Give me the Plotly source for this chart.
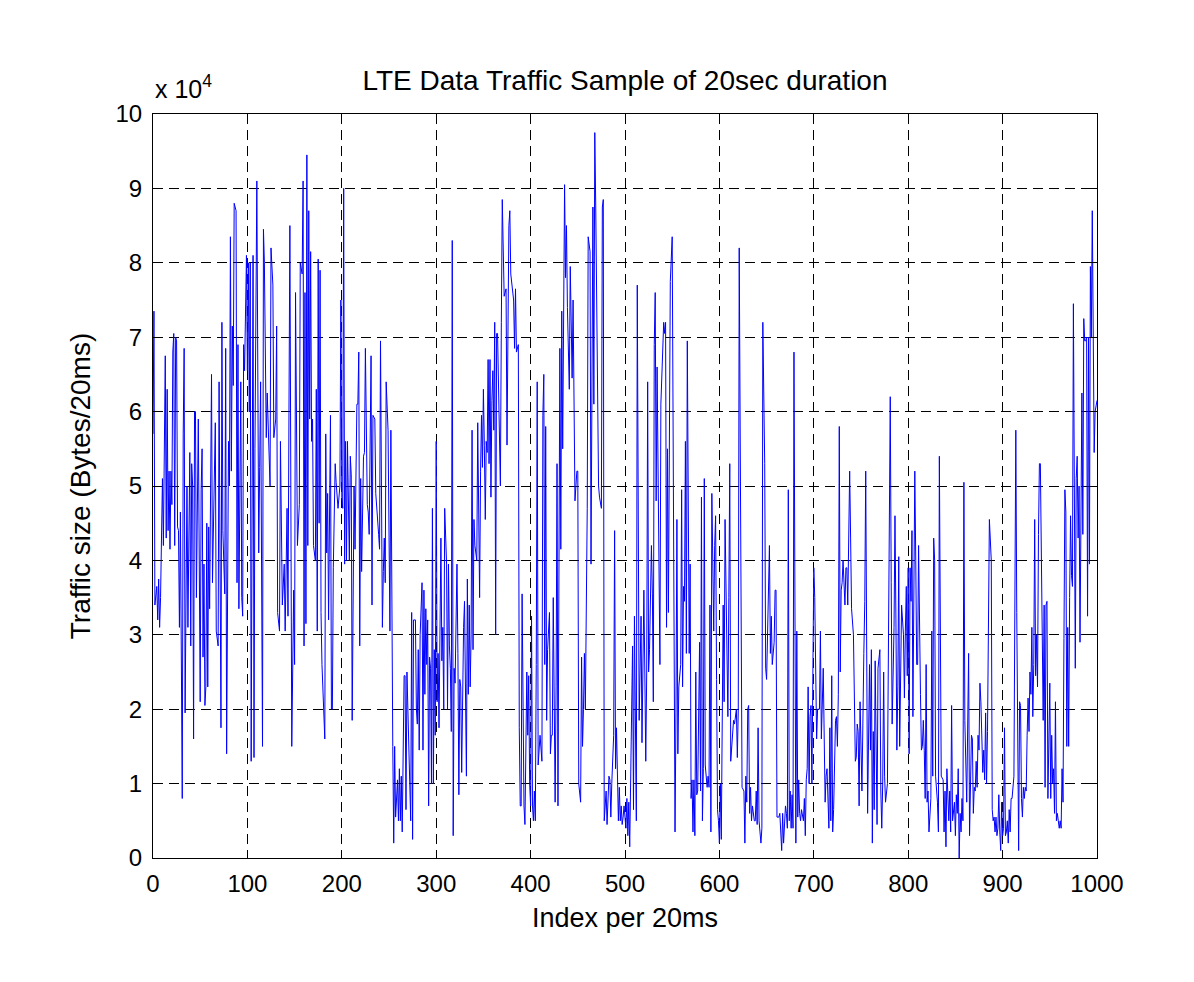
import plotly.graph_objects as go

# sample index (per 20 ms) and traffic size in units of 1e4 bytes
sample_index = [
    0, 1, 2, 4, 5, 6, 7, 8, 10, 11, 13, 14, 15, 16, 17, 18, 19, 20, 21, 22, 23, 24, 25, 26, 27, 28, 29, 30,
    31, 32, 33, 34, 36, 37, 39, 40, 41, 42, 43, 44, 45, 46, 48, 50, 51, 52, 53, 54, 55, 56, 57, 58, 59, 60,
    61, 62, 63, 64, 66, 67, 69, 70, 71, 72, 73, 74, 76, 77, 78, 79, 80, 81, 82, 83, 84, 85, 86, 88, 89, 90,
    91, 93, 94, 95, 96, 97, 98, 99, 100, 101, 102, 103, 104, 106, 107, 108, 110, 111, 112, 113, 114, 116,
    117, 118, 120, 121, 124, 125, 127, 128,
    130, 131, 132, 134, 135, 137, 139, 140, 141, 142, 143, 145, 147, 149, 150, 151, 153, 155, 156, 158,
    159, 160, 161, 162, 163, 164, 165, 166, 167, 168, 169, 170, 172, 173, 174, 175, 176, 177, 178, 179,
    182, 183, 184, 185, 186, 187, 188, 189, 190, 191, 193, 194, 196, 198, 199, 200, 201, 202, 203, 204,
    205, 206, 208, 209, 210, 211, 213, 214, 215, 216, 217, 218, 219, 220, 221, 223, 224, 225, 227, 228,
    229, 231, 232, 233, 235, 236, 239, 240, 241, 243, 244, 245, 246, 247, 249, 251, 252, 253, 254, 255,
    256, 257, 259, 260, 261, 262, 263, 264, 266, 267, 268, 269, 270, 272, 273, 274, 275, 276, 278, 279,
    280, 281, 282, 283, 285, 286, 287, 288, 289, 290, 291, 292, 293, 294, 295, 296, 297, 298, 299, 300,
    301, 302, 303, 305, 306, 307, 308, 309, 311, 312, 313, 314, 315, 316, 317, 318, 319, 320, 322, 323,
    324, 325, 326, 327, 328, 329, 330, 331, 332, 333, 334, 335, 336, 337, 338, 339, 340, 341, 343, 344,
    345, 346, 347, 348, 349, 350, 351, 352, 353, 354, 355, 356, 357, 358, 359, 360, 361, 362, 363, 364,
    365, 366, 367, 368, 369, 370, 372, 373, 374, 375, 376, 377,
    378, 379, 382, 383, 384, 385, 387, 388, 389, 390, 391, 393, 394, 395, 396, 397, 398, 399, 400, 401,
    402, 403, 404, 405, 406, 407, 408, 410, 412, 413, 414, 415, 416, 417, 418, 420, 421, 422, 423, 424,
    426, 427, 428, 429, 430, 431, 432, 433, 434, 435, 436, 437, 438, 439, 440, 441, 442, 444, 445, 446,
    447, 449, 450, 451, 452, 453, 454, 455, 456, 457, 458, 460, 461, 463, 464, 465, 466, 467, 468, 469,
    470, 471, 472, 473, 475, 476, 477, 478, 479, 480, 481, 482, 483, 484, 485, 486, 488, 489, 490, 491,
    492, 493, 494, 495, 496, 497, 498, 499, 501, 502, 503, 504, 505,
    506, 508, 509, 510, 512, 513, 515, 516, 517, 518, 520, 521, 522, 523, 524, 525, 526, 528, 529, 530,
    531, 532, 533, 534, 536, 537, 538, 540, 541, 542, 543, 544, 545, 546, 547, 548, 550, 551, 553, 554,
    555, 556, 557, 559, 560, 561, 562, 563, 564, 565, 566, 568, 569, 570, 571, 572, 573, 574, 575, 576,
    577, 579, 580, 581, 582, 583, 584, 585, 586, 587, 588, 589, 590, 591, 592, 593, 594, 595, 596, 597,
    598, 599, 600, 601, 602, 604, 605, 606, 608, 609, 610, 611, 612, 614, 615, 616, 618, 619, 620, 621,
    623, 624, 626, 627, 628, 629, 630, 631, 632, 633, 634, 635,
    637, 638, 639, 640, 641, 642, 643, 644, 645, 646, 648, 649, 650, 652, 653, 654, 655, 656, 658, 659,
    660, 661, 663, 664, 665, 666, 667, 668, 670, 671, 672, 673, 674, 675, 676, 677, 678, 679, 681, 682,
    683, 684, 685, 686, 687, 689, 690, 691, 692, 693, 694, 695, 696, 697, 698, 700, 701, 702, 703, 704,
    706, 707, 708, 710, 711, 712, 713, 714, 716, 717, 718, 719, 720, 721, 723, 724, 725, 726, 727, 728,
    729, 730, 731, 733, 734, 735, 736, 738, 739, 740, 742, 743, 744, 745, 746, 747, 748, 749, 750, 751,
    753, 754, 755, 756, 757, 759, 760,
    761, 762, 763, 764, 765, 766, 767, 768, 770, 771, 772, 773, 774, 775, 776, 778, 779, 780, 781, 782,
    783, 785, 786, 787, 788, 789, 790, 791, 792, 793, 795, 796, 797, 798, 799, 800, 801, 802, 803, 804,
    805, 806, 807, 808, 809, 810, 811, 813, 814, 815, 816, 817, 818, 819, 820, 821, 822, 824, 825, 826,
    827, 828, 829, 831, 832, 833, 834, 835, 837, 838, 839, 840, 841, 842, 843, 844, 845, 846, 847, 849,
    850, 851, 852, 853, 854, 855, 856, 857, 858, 859, 860, 862, 863, 864, 865, 867, 868, 869, 870, 871,
    872, 873, 874, 875, 876, 877, 879, 880, 881, 882, 883, 884,
    886, 888, 889, 890, 891, 892, 893, 894, 895, 896, 897, 898, 899, 900, 901, 902, 903, 904, 905, 906,
    907, 908, 909, 910, 912, 913, 914, 915, 917, 918, 919, 920, 921, 922, 923, 924, 925, 926, 927, 928,
    929, 930, 931, 932, 933, 934, 935, 936, 937, 938, 939, 940, 941, 942, 943, 944, 945, 946, 947, 948,
    950, 951, 952, 953, 954, 955, 956, 957, 958, 959, 960, 961, 962, 963, 964, 965, 966, 967, 968, 969,
    970, 971, 972, 973, 974, 975, 976, 977, 978, 979, 980, 981, 982, 983, 984, 985, 986, 987, 988, 989,
    990, 991, 992, 993, 994, 995, 996, 997, 998, 1000,
]

traffic_x1e4 = [
    5.7, 7.35, 3.4, 3.65, 3.2, 3.75, 3.1, 3.5, 5.1, 4.2, 6.75, 4.3, 6.3, 4.4, 5.2, 4.15, 5.2, 4.75, 6.8, 7.05, 4.2, 7.0, 6.95, 4.45, 4.4, 3.1, 4.65, 3.2,
    0.8, 5.7, 6.85, 1.95, 5.0, 3.1, 5.45, 2.85, 5.3, 5.0, 1.6, 6.0, 6.0, 3.5, 5.9, 2.1, 4.95, 5.5, 2.7, 3.95, 2.05, 2.3, 4.5, 2.3, 4.45, 3.35,
    4.5, 6.5, 3.7, 4.5, 5.85, 3.05, 2.85, 6.4, 2.85, 1.75, 7.2, 4.4, 3.55, 6.85, 1.4, 3.65, 5.6, 5.0, 8.35, 5.2, 7.15, 6.35, 8.8, 8.7, 3.7, 6.9,
    3.35, 6.4, 3.5, 3.25, 6.9, 6.55, 7.2, 8.1, 6.55, 8.0, 6.0, 8.0, 1.3, 8.1, 1.35, 5.5, 9.1, 5.7, 4.1, 5.25, 6.4, 1.5,
    8.45, 8.0, 5.65, 6.25, 5.0, 8.2, 7.7, 5.65,
    5.9, 7.15, 3.3, 3.05, 5.6, 3.4, 3.95, 3.05, 3.75, 4.7, 3.25, 8.5, 1.5, 3.6, 2.6, 7.6, 4.2, 4.75, 8.0, 7.85,
    9.1, 2.85, 7.6, 3.15, 9.45, 4.2, 8.7, 5.9, 8.15, 5.6, 5.9, 4.2, 4.0, 6.3, 3.05, 8.05, 4.5, 7.9, 3.3, 2.6,
    1.6, 5.7, 4.1, 4.9, 3.2, 4.5, 5.95, 2.0, 2.0, 3.9, 5.3, 5.05, 4.7, 5.0, 7.5, 4.85, 4.7, 9.0, 3.95, 5.6,
    4.0, 5.6, 4.0, 5.4, 5.15, 1.85, 5.0, 4.15, 5.2, 6.1, 6.1, 6.8, 2.85, 5.1, 3.85, 5.4, 5.45, 6.85, 4.75, 4.65,
    4.35, 6.75, 3.4, 5.95, 5.9, 4.9, 4.35, 4.15, 6.95, 3.1, 3.85, 4.3, 3.7, 6.4, 5.75, 3.05, 5.75, 3.05, 1.5, 0.2,
    1.5, 0.55, 1.05, 0.5, 1.2, 0.5, 1.1, 0.35, 2.45, 2.45, 0.65, 2.5, 2.0, 1.0, 0.5, 3.3, 0.25, 3.2, 3.2, 2.0,
    1.8, 2.8, 1.45, 3.0, 3.7, 1.45, 3.6, 2.2, 3.35, 2.6, 3.2, 0.7, 2.7, 2.55, 1.0, 4.7, 1.0, 2.8, 1.65, 5.6,
    2.1, 2.75, 1.75, 4.3, 2.65, 3.1, 2.0, 4.7, 3.95, 2.0, 3.95, 2.85, 2.55, 1.7, 8.3, 0.3, 2.55, 2.35, 3.95, 2.75,
    0.85, 2.4, 2.3, 1.15, 2.55, 3.1, 3.45, 2.2, 1.1, 3.75, 2.2, 3.4, 2.3, 3.0, 5.75, 2.8, 4.55, 4.2, 4.0, 5.85,
    4.0, 3.5, 5.2, 5.95, 5.25, 6.3, 5.55, 4.55, 5.6, 5.45, 6.7, 5.3, 6.7, 4.85, 6.15, 6.55, 5.75, 7.2, 3.0, 7.05,
    7.05, 6.5, 5.75, 5.0, 7.2, 8.85, 7.55, 7.6, 7.65, 5.55, 7.1, 8.5,
    8.7, 7.85, 7.5, 6.85, 7.65, 6.8, 6.9, 1.75, 0.7, 0.7, 3.55, 0.7, 0.45, 1.9, 2.5, 1.65, 2.45, 1.0, 0.7, 3.25,
    0.7, 0.5, 0.9, 0.5, 2.6, 6.4, 1.25, 1.65, 1.3, 5.95, 6.5, 2.6, 5.8, 1.85, 2.8, 3.3, 1.4, 1.65, 1.65, 3.5,
    0.75, 2.3, 5.3, 0.7, 5.5, 6.85, 4.15, 7.35, 5.5, 7.3, 9.05, 7.8, 8.5, 7.4, 6.7, 6.3, 7.95, 6.45, 7.5, 6.5,
    4.8, 5.2, 5.2, 1.0, 0.9, 0.75, 2.7, 1.5, 2.0, 2.75, 2.0, 4.7, 8.35, 8.15, 3.95, 5.9, 8.75, 6.1, 9.75, 8.75,
    7.55, 6.4, 5.0, 4.85, 4.7, 8.75, 8.85, 0.5, 0.75, 0.9, 0.45, 0.95, 1.1, 1.05, 0.55, 1.0, 1.65, 4.4, 1.2, 1.75,
    1.15, 0.5, 0.95, 0.5, 0.7, 0.45, 0.55, 0.7, 0.4, 0.8, 0.3, 0.75, 0.15,
    0.9, 2.85, 0.65, 3.25, 0.5, 7.7, 1.85, 2.6, 3.25, 1.55, 3.6, 2.5, 1.3, 2.5, 6.4, 2.5, 2.8, 4.2, 3.55, 2.1,
    6.9, 7.6, 4.8, 6.6, 3.6, 2.6, 6.1, 6.9, 7.2, 7.05, 7.2, 3.1, 5.5, 3.3, 5.05, 7.75, 8.35, 5.0, 0.35, 1.95,
    4.55, 1.4, 2.3, 2.6, 4.95, 2.3, 3.65, 3.45, 5.6, 2.75, 6.95, 2.75, 3.95, 0.8, 1.05, 0.35, 1.05, 0.3, 2.5, 0.85,
    0.9, 2.9, 0.9, 4.85, 0.5, 1.2, 5.1, 1.25, 1.1, 0.95, 1.1, 0.95, 3.4, 0.35, 4.9, 3.45, 3.05, 4.2, 4.6, 2.4,
    0.65, 0.5, 0.2, 1.0, 0.25, 3.4, 2.1, 4.55, 3.0, 1.9, 3.5, 5.3, 1.3, 1.6, 1.85, 1.8, 2.0, 1.35, 2.0, 8.2,
    2.1, 0.95, 0.9, 0.2, 1.1, 0.75, 2.0, 2.05, 0.6, 0.95, 0.5, 0.7,
    0.5, 0.5, 0.9, 0.45, 1.75, 0.5, 0.35, 0.2, 0.4, 7.2, 5.3, 2.55, 2.4, 4.0, 4.2, 2.75, 3.25, 2.6, 2.9, 3.6,
    3.6, 0.55, 0.55, 0.6, 0.4, 0.1, 0.6, 0.2, 0.7, 0.6, 0.4, 4.95, 0.5, 0.9, 0.4, 0.85, 0.4, 6.8, 0.2, 3.05,
    0.55, 1.05, 0.6, 0.5, 0.65, 0.5, 0.8, 0.3, 1.05, 1.2, 2.3, 1.0, 1.9, 2.05, 1.0, 3.9, 3.5, 2.4, 1.6, 2.0,
    2.0, 3.05, 1.6, 2.55, 1.5, 0.75, 1.1, 1.2, 0.4, 1.75, 0.5, 2.45, 0.35, 0.65, 1.85, 1.9, 1.5, 2.2, 5.8, 2.5,
    3.6, 3.7, 4.0, 3.4, 3.9, 3.9, 3.4, 5.2, 4.3, 3.35, 3.0, 2.3, 1.3, 1.35, 1.8, 1.7, 0.7, 2.1, 1.65, 0.9,
    2.75, 3.45, 5.2, 2.3, 0.6, 2.6, 1.45,
    2.8, 0.2, 1.7, 0.65, 2.65, 1.0, 0.45, 2.55, 2.8, 0.9, 0.4, 1.0, 2.5, 1.1, 0.75, 1.0, 2.8, 5.5, 6.2, 3.7,
    1.8, 3.1, 4.6, 3.2, 1.45, 2.3, 4.05, 1.5, 3.0, 3.4, 3.0, 2.15, 3.05, 3.65, 2.45, 3.9, 1.4, 3.9, 3.45, 4.4,
    1.9, 3.95, 5.2, 4.0, 2.6, 2.6, 4.2, 2.2, 1.45, 1.5, 1.85, 1.45, 0.8, 2.6, 0.75, 0.9, 0.35, 0.8, 3.05, 1.1,
    4.3, 4.0, 1.1, 0.75, 0.35, 5.4, 3.0, 1.1, 1.05, 0.35, 0.9, 0.15, 1.2, 0.8, 0.5, 0.9, 0.35, 2.05, 0.5, 0.75,
    0.3, 0.85, 0.6, 1.2, 0.0, 0.6, 0.35, 0.8, 0.5, 5.05, 1.85, 0.75, 1.5, 2.75, 0.3, 1.65, 1.6, 0.6, 0.95, 0.9,
    1.3, 0.95, 1.65, 1.45, 2.35, 2.1, 1.15, 1.45, 1.05, 1.95, 1.0, 1.7,
    4.55, 4.0, 0.65, 0.5, 0.55, 0.35, 0.55, 0.3, 0.4, 0.85, 0.35, 0.1, 0.75, 0.3, 0.4, 1.75, 0.3, 0.35, 0.5, 0.2,
    0.65, 0.35, 0.8, 0.8, 1.1, 3.05, 5.75, 3.3, 0.1, 2.1, 2.05, 0.8, 0.55, 0.95, 0.8, 0.95, 0.9, 1.65, 2.15, 1.7,
    2.5, 2.2, 3.1, 1.9, 2.6, 4.55, 2.45, 3.0, 2.3, 4.35, 5.3, 5.3, 4.1, 3.0, 1.85, 3.4, 0.95, 3.4, 3.45, 0.8,
    2.35, 0.8, 1.65, 1.0, 1.2, 0.6, 2.1, 0.5, 0.6, 0.5, 0.4, 0.5, 0.4, 1.2, 0.75, 2.95, 4.95, 4.65, 1.5, 3.1,
    1.5, 3.5, 4.6, 3.8, 3.65, 7.45, 3.9, 2.55, 5.1, 5.4, 4.3, 5.0, 2.9, 5.2, 6.25, 4.35, 7.25, 6.95, 6.95, 7.0,
    3.25, 7.0, 3.95, 7.95, 7.0, 8.7, 7.05, 5.45, 6.0, 6.15,
]

traffic_bytes = [v * 1e4 for v in traffic_x1e4]

y_ticks = [i * 1e4 for i in range(11)]
y_ticktext = [str(i) for i in range(11)]
x_ticks = list(range(0, 1001, 100))

font = "Liberation Sans, Arial, sans-serif"

fig = go.Figure(
    data=[
        go.Scatter(
            x=sample_index,
            y=traffic_bytes,
            mode="lines",
            line=dict(color="#0000ff", width=1),
            showlegend=False,
        )
    ]
)

axis_common = dict(
    showline=True,
    linecolor="black",
    linewidth=1,
    mirror="ticks",
    ticks="inside",
    ticklen=8,
    tickcolor="black",
    showgrid=True,
    gridcolor="black",
    gridwidth=1,
    griddash="10px,6px",
    zeroline=False,
    tickfont=dict(family=font, size=24, color="black"),
)

# page body adds 8px around the figure, so the figure is 16px smaller than the window
fig_w, fig_h = 1178, 966

fig.update_layout(
    width=fig_w,
    height=fig_h,
    paper_bgcolor="white",
    plot_bgcolor="white",
    margin=dict(l=145, r=89, t=106, b=116),
    title=dict(
        text="LTE Data Traffic Sample of 20sec duration",
        font=dict(family=font, size=28, color="black"),
        x=0.5,
        xref="paper",
        xanchor="center",
        y=1 - 72 / fig_h,
        yanchor="middle",
    ),
    xaxis=dict(
        range=[0, 1000],
        tickvals=x_ticks,
        ticklabelstandoff=4,
        title=dict(text="Index per 20ms", font=dict(family=font, size=27, color="black"), standoff=12),
        **axis_common,
    ),
    yaxis=dict(
        range=[0, 1e5],
        tickvals=y_ticks,
        ticktext=y_ticktext,
        ticklabelstandoff=5,
        title=dict(text="Traffic size (Bytes/20ms)", font=dict(family=font, size=28, color="black"), standoff=16),
        **axis_common,
    ),
    annotations=[
        dict(
            text="x 10<sup>4</sup>",
            xref="paper",
            yref="paper",
            x=0,
            y=1,
            xanchor="left",
            yanchor="bottom",
            yshift=9,
            showarrow=False,
            font=dict(family=font, size=25, color="black"),
        )
    ],
)

fig.write_html("out.html")
